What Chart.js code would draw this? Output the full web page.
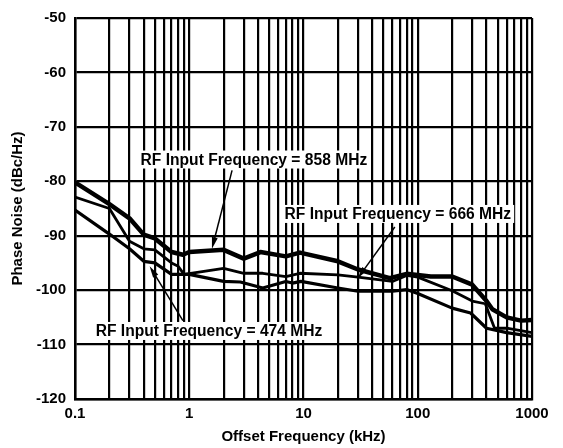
<!DOCTYPE html>
<html>
<head>
<meta charset="utf-8">
<script src="https://cdn.jsdelivr.net/npm/chart.js"></script>
<style>
  body { margin: 0; background: #fff; }
</style>
</head>
<body>
<canvas id="myChart" width="563" height="448"></canvas>
<script>
// offset frequency (kHz) and phase noise (dBc/Hz)
const freq858 = [0.1, 0.2, 0.3, 0.4, 0.5, 0.7, 0.88, 1.0, 2.0, 3.0, 4.2, 7, 9.3, 20, 30, 57, 80, 130, 200, 300, 400, 450, 600, 800, 1000];
const noise858 = [-80.2, -84.2, -86.8, -89.8, -90.5, -93, -93.5, -93, -92.6, -94.2, -93, -93.8, -93.1, -94.7, -96.2, -97.8, -97, -97.5, -97.5, -99, -102, -103.5, -105, -105.6, -105.5];

const freq666 = [0.1, 0.2, 0.3, 0.4, 0.5, 0.7, 0.8, 0.9, 2, 3, 4.4, 7, 9.3, 20, 30, 60, 80, 100, 200, 300, 390, 470, 600, 1000];
const noise666 = [-82.9, -85, -91, -92.4, -92.6, -95, -95.6, -97.1, -96, -96.9, -96.9, -97.5, -96.9, -97.2, -97.6, -98.4, -97.3, -97.6, -100.1, -102, -102.5, -107, -107, -107.8];

const freq474 = [0.1, 0.2, 0.3, 0.4, 0.5, 0.7, 1.0, 2, 2.8, 4.4, 7, 8, 9.5, 20, 30, 60, 80, 100, 200, 290, 400, 600, 1000];
const noise474 = [-85.3, -89.7, -92.4, -94.7, -95, -97.1, -97.1, -98.4, -98.5, -99.6, -98.4, -98.7, -98.4, -99.6, -100.2, -100.2, -99.9, -100.6, -103.3, -104.2, -107, -107.8, -108.5];

const seriesNames = ["RF Input Frequency = 858 MHz", "RF Input Frequency = 666 MHz", "RF Input Frequency = 474 MHz"];
const xTickLabels = [0.1, 1, 10, 100, 1000];
const yTickLabels = [-120, -110, -100, -90, -80, -70, -60, -50];

// grid at every 1..9 multiple inside each decade
const xGrid = [];
for (let d = 0; d < xTickLabels.length - 1; d++) {
  for (let m = 1; m <= 9; m++) xGrid.push(Math.round(xTickLabels[d] * m * 1000) / 1000);
}
xGrid.push(xTickLabels[xTickLabels.length - 1]);

function toPoints(xs, ys) {
  return xs.map((x, i) => ({ x: x, y: ys[i] }));
}

// label boxes with arrows, in data coordinates
const notes = [
  { text: seriesNames[0], at: [3.68, -76], from: [2.37, -78], to: [1.58, -92.4] },
  { text: seriesNames[1], at: [67, -86], from: [63, -88.4], to: [29.9, -97.8] },
  { text: seriesNames[2], at: [1.49, -107.5], from: [0.88, -105.6], to: [0.45, -95.6] }
];

const fontFamily = '"Liberation Sans", Arial, sans-serif';

const notePlugin = {
  id: 'notes',
  afterDatasetsDraw(chart) {
    const ctx = chart.ctx;
    const xs = chart.scales.x, ys = chart.scales.y;
    ctx.save();
    ctx.font = 'bold 15.6px ' + fontFamily;
    ctx.textAlign = 'center';
    ctx.textBaseline = 'middle';
    notes.forEach(n => {
      const cx = xs.getPixelForValue(n.at[0]);
      const cy = ys.getPixelForValue(n.at[1]);
      const w = ctx.measureText(n.text).width;
      ctx.fillStyle = '#fff';
      ctx.fillRect(cx - w / 2 - 3, cy - 9, w + 6, 18);
      ctx.fillStyle = '#000';
      ctx.fillText(n.text, cx, cy + 1);

      const x1 = xs.getPixelForValue(n.from[0]), y1 = ys.getPixelForValue(n.from[1]);
      const x2 = xs.getPixelForValue(n.to[0]), y2 = ys.getPixelForValue(n.to[1]);
      const ang = Math.atan2(y2 - y1, x2 - x1);
      const head = 12;
      ctx.strokeStyle = '#000';
      ctx.lineWidth = 1.5;
      ctx.beginPath();
      ctx.moveTo(x1, y1);
      ctx.lineTo(x2 - Math.cos(ang) * head * 0.8, y2 - Math.sin(ang) * head * 0.8);
      ctx.stroke();
      ctx.beginPath();
      ctx.moveTo(x2, y2);
      ctx.lineTo(x2 - head * Math.cos(ang - 0.25), y2 - head * Math.sin(ang - 0.25));
      ctx.lineTo(x2 - head * Math.cos(ang + 0.25), y2 - head * Math.sin(ang + 0.25));
      ctx.closePath();
      ctx.fill();
    });
    ctx.restore();
  }
};

const ctx = document.getElementById('myChart').getContext('2d');
new Chart(ctx, {
  type: 'line',
  data: {
    datasets: [
      { label: seriesNames[0], data: toPoints(freq858, noise858), borderColor: '#000', borderWidth: 4.5 },
      { label: seriesNames[1], data: toPoints(freq666, noise666), borderColor: '#000', borderWidth: 2.8 },
      { label: seriesNames[2], data: toPoints(freq474, noise474), borderColor: '#000', borderWidth: 3.2 }
    ]
  },
  options: {
    responsive: false,
    animation: false,
    events: [],
    elements: { point: { radius: 0 }, line: { tension: 0, borderJoinStyle: 'round', borderCapStyle: 'round' } },
    layout: { padding: { top: 14, right: 31, left: 0, bottom: 0 } },
    plugins: {
      legend: { display: false },
      tooltip: { enabled: false }
    },
    scales: {
      x: {
        type: 'logarithmic',
        min: 0.1,
        max: 1000,
        afterBuildTicks: axis => { axis.ticks = xGrid.map(v => ({ value: v })); },
        afterFit: axis => { axis.height = 49; },
        ticks: {
          autoSkip: false,
          maxRotation: 0,
          padding: 6,
          color: '#000',
          font: { family: fontFamily, size: 15, weight: 'bold' },
          callback: value => {
            const t = xTickLabels.find(v => Math.abs(v - value) < v * 1e-6);
            return t === undefined ? '' : String(t);
          }
        },
        grid: { color: '#000', lineWidth: 2.2, drawTicks: false },
        border: { color: '#000', width: 2.5 },
        title: {
          display: true,
          text: 'Offset Frequency (kHz)',
          color: '#000',
          font: { family: fontFamily, size: 15, weight: 'bold' },
          padding: { top: 0, bottom: 2 }
        }
      },
      y: {
        min: yTickLabels[0],
        max: yTickLabels[yTickLabels.length - 1],
        afterFit: axis => { axis.width = 75; },
        ticks: {
          stepSize: 10,
          padding: 9,
          color: '#000',
          font: { family: fontFamily, size: 15, weight: 'bold' }
        },
        grid: { color: '#000', lineWidth: 2.2, drawTicks: false },
        border: { color: '#000', width: 2.5 },
        title: {
          display: true,
          text: 'Phase Noise (dBc/Hz)',
          color: '#000',
          font: { family: fontFamily, size: 15, weight: 'bold' },
          padding: { top: 9, bottom: 0 }
        }
      }
    }
  },
  plugins: [notePlugin]
});
</script>
</body>
</html>
